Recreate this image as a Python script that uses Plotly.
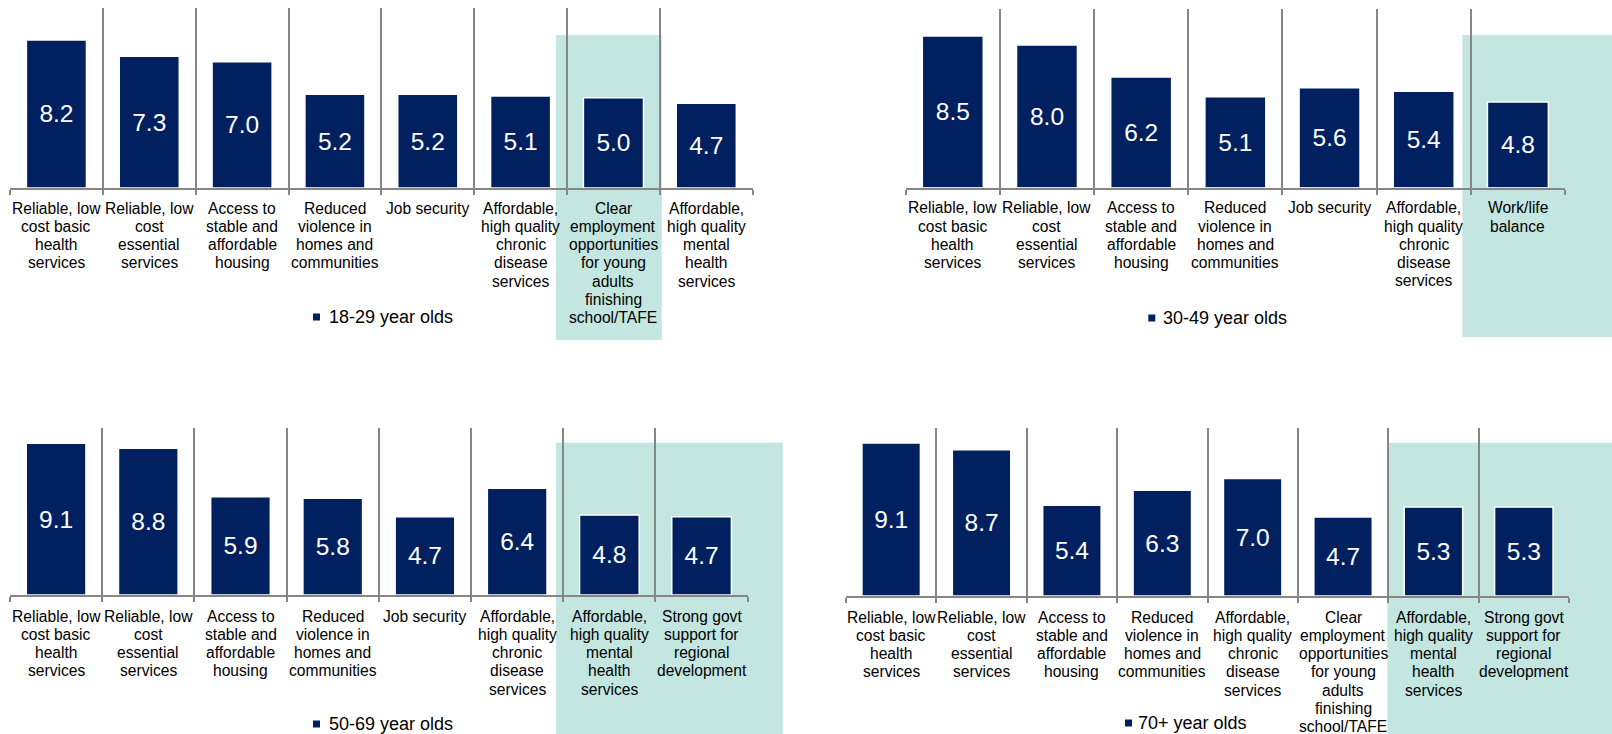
import plotly.graph_objects as go

# ---- data -------------------------------------------------------------
cats_18_29 = [
    "Reliable, low<br>cost basic<br>health<br>services",
    "Reliable, low<br>cost<br>essential<br>services",
    "Access to<br>stable and<br>affordable<br>housing",
    "Reduced<br>violence in<br>homes and<br>communities",
    "Job security",
    "Affordable,<br>high quality<br>chronic<br>disease<br>services",
    "Clear<br>employment<br>opportunities<br>for young<br>adults<br>finishing<br>school/TAFE",
    "Affordable,<br>high quality<br>mental<br>health<br>services",
]
vals_18_29 = [8.2, 7.3, 7.0, 5.2, 5.2, 5.1, 5.0, 4.7]

cats_30_49 = [
    "Reliable, low<br>cost basic<br>health<br>services",
    "Reliable, low<br>cost<br>essential<br>services",
    "Access to<br>stable and<br>affordable<br>housing",
    "Reduced<br>violence in<br>homes and<br>communities",
    "Job security",
    "Affordable,<br>high quality<br>chronic<br>disease<br>services",
    "Work/life<br>balance",
]
vals_30_49 = [8.5, 8.0, 6.2, 5.1, 5.6, 5.4, 4.8]

cats_50_69 = [
    "Reliable, low<br>cost basic<br>health<br>services",
    "Reliable, low<br>cost<br>essential<br>services",
    "Access to<br>stable and<br>affordable<br>housing",
    "Reduced<br>violence in<br>homes and<br>communities",
    "Job security",
    "Affordable,<br>high quality<br>chronic<br>disease<br>services",
    "Affordable,<br>high quality<br>mental<br>health<br>services",
    "Strong govt<br>support for<br>regional<br>development",
]
vals_50_69 = [9.1, 8.8, 5.9, 5.8, 4.7, 6.4, 4.8, 4.7]

cats_70 = [
    "Reliable, low<br>cost basic<br>health<br>services",
    "Reliable, low<br>cost<br>essential<br>services",
    "Access to<br>stable and<br>affordable<br>housing",
    "Reduced<br>violence in<br>homes and<br>communities",
    "Affordable,<br>high quality<br>chronic<br>disease<br>services",
    "Clear<br>employment<br>opportunities<br>for young<br>adults<br>finishing<br>school/TAFE",
    "Affordable,<br>high quality<br>mental<br>health<br>services",
    "Strong govt<br>support for<br>regional<br>development",
]
vals_70 = [9.1, 8.7, 5.4, 6.3, 7.0, 4.7, 5.3, 5.3]

series_names = ["18-29 year olds", "30-49 year olds", "50-69 year olds", "70+ year olds"]

# ---- layout constants (pixels on a 1612 x 734 page) -----------------------
W, H = 1612, 734
NAVY = "#012060"
TEAL = "#C3E6E0"
GRID = "#868686"
FONT = "Liberation Sans, Arial, sans-serif"

panels = [
    # plot box (left, right, top, baseline); highlight band (x0, x1 in category
    # units, None = page edge; top, bottom px); key (marker left, text left, centre y)
    dict(cats=cats_18_29, vals=vals_18_29, box=(10, 752.7, 7.5, 188),
         band=(5.38, 6.52, 35, 340), legend=(313, 326.5, 317), lab_off=20),
    dict(cats=cats_30_49, vals=vals_30_49, box=(905.7, 1565, 9.3, 187.7),
         band=(5.41, None, 35, 337), legend=(1148.3, 1160.7, 318), lab_off=20),
    dict(cats=cats_50_69, vals=vals_50_69, box=(10, 747.7, 428.3, 595),
         band=(5.42, 7.88, 442.7, 734), legend=(313, 326.5, 724), lab_off=21),
    dict(cats=cats_70, vals=vals_70, box=(846, 1569, 428, 596),
         band=(5.49, None, 442.7, 734), legend=(1125, 1136, 723), lab_off=21),
]


def px_x(p):
    return p / W


def px_y(p):
    return 1 - p / H


fig = go.Figure()
shapes = []
annotations = []
LINE_H = 18.3

for i, (pn, name) in enumerate(zip(panels, series_names)):
    n = i + 1
    xa = "x" if n == 1 else f"x{n}"
    ya = "y" if n == 1 else f"y{n}"
    left, right, top, base = pn["box"]
    ncat = len(pn["cats"])
    step = (right - left) / ncat

    fig.add_trace(go.Bar(
        x=list(range(ncat)), y=pn["vals"], xaxis=xa, yaxis=ya,
        marker=dict(color=NAVY, line=dict(color="white", width=1.5)),
        text=[f"{v:.1f}" for v in pn["vals"]], textposition="inside",
        insidetextanchor="middle", textangle=0,
        textfont=dict(family=FONT, size=24.5, color="white"),
        name=name, showlegend=False, hoverinfo="skip",
    ))

    fig.update_layout(**{
        ("xaxis" if n == 1 else f"xaxis{n}"): dict(
            domain=[px_x(left), px_x(right)], anchor=ya,
            type="linear", range=[-0.5, ncat - 0.5],
            tickmode="array", tickvals=[k - 0.5 for k in range(ncat + 1)],
            showticklabels=False, ticks="outside", ticklen=5, tickwidth=1.6, tickcolor=GRID,
            showgrid=True, gridcolor=GRID, gridwidth=1.6,
            showline=True, linecolor=GRID, linewidth=2.2, zeroline=False, fixedrange=True,
        ),
        ("yaxis" if n == 1 else f"yaxis{n}"): dict(
            domain=[px_y(base), px_y(top)], anchor=xa, range=[0, 10],
            visible=False, showgrid=False, zeroline=False, fixedrange=True,
        ),
    })

    # highlighted category band (category units -> page position)
    bx0, bx1, bt, bb = pn["band"]
    x0 = left + (bx0 + 0.5) * step
    x1 = W if bx1 is None else left + (bx1 + 0.5) * step
    shapes.append(dict(type="rect", xref="paper", yref="paper",
                       x0=px_x(x0), x1=px_x(x1),
                       y0=px_y(bb), y1=px_y(bt), fillcolor=TEAL,
                       line=dict(width=0), layer="below"))

    # category labels, one annotation per line
    for k, lab in enumerate(pn["cats"]):
        for j, line in enumerate(lab.split("<br>")):
            annotations.append(dict(
                xref=xa, yref=ya, x=k, y=0, text=line, showarrow=False,
                xanchor="center", yanchor="middle",
                yshift=-(pn["lab_off"] + j * LINE_H),
                font=dict(family=FONT, size=15.6, color="#000000"),
            ))

    # series key
    mx, tx, cy = pn["legend"]
    shapes.append(dict(type="rect", xref="paper", yref="paper",
                       x0=px_x(mx), x1=px_x(mx + 7),
                       y0=px_y(cy + 3.5), y1=px_y(cy - 3.5),
                       fillcolor=NAVY, line=dict(width=0)))
    annotations.append(dict(
        xref="paper", yref="paper", x=px_x(tx), y=px_y(cy), text=name,
        showarrow=False, xanchor="left", yanchor="middle",
        font=dict(family=FONT, size=18, color="#000000"),
    ))

fig.update_layout(
    width=W, height=H, margin=dict(l=0, r=0, t=0, b=0),
    paper_bgcolor="white", plot_bgcolor="rgba(0,0,0,0)",
    bargap=0.353, shapes=shapes, annotations=annotations,
    font=dict(family=FONT), showlegend=False,
)

fig.write_html("out.html", config={"displayModeBar": False})
